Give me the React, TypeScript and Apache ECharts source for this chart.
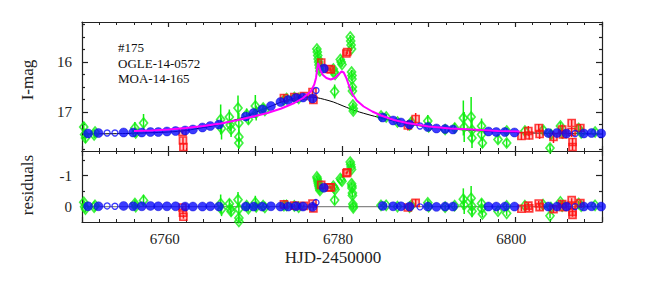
import React, { useEffect, useRef } from "react";
import * as echarts from "echarts";

// ---- single-lens model (black) ----
const modelDays = [6750, 6755, 6760, 6762, 6764, 6765, 6766, 6767, 6768, 6769, 6770, 6771, 6772, 6773, 6774, 6775, 6776, 6777, 6778, 6779, 6780, 6781, 6782, 6783, 6784.5, 6786, 6788, 6790, 6792, 6795, 6800, 6805, 6810];
const modelMag = [17.44, 17.43, 17.40, 17.37, 17.31, 17.28, 17.24, 17.19, 17.14, 17.08, 17.01, 16.94, 16.87, 16.80, 16.75, 16.71, 16.70, 16.71, 16.75, 16.80, 16.87, 16.94, 17.00, 17.05, 17.12, 17.18, 17.25, 17.30, 17.33, 17.37, 17.41, 17.43, 17.44];

// ---- binary-lens model (magenta) ----
const binaryDays = [6756, 6758, 6760, 6762, 6764, 6766, 6768, 6770, 6771.4, 6773, 6774.5, 6775.5, 6776.4, 6776.8, 6777.0, 6777.15, 6777.25, 6777.35, 6777.5, 6777.8, 6778.2, 6778.7, 6779.2, 6779.6, 6779.95, 6780.2, 6780.5, 6780.8, 6781.2, 6781.7, 6782.5, 6783.5, 6784.5, 6786, 6787.5, 6790, 6792.5, 6795, 6798, 6800.5];
const binaryMag = [17.38, 17.37, 17.35, 17.32, 17.28, 17.23, 17.16, 17.08, 17.02, 16.93, 16.82, 16.72, 16.59, 16.45, 16.32, 16.12, 16.02, 16.08, 16.17, 16.26, 16.32, 16.35, 16.32, 16.25, 16.19, 16.21, 16.32, 16.47, 16.64, 16.77, 16.89, 16.99, 17.07, 17.16, 17.22, 17.29, 17.33, 17.35, 17.38, 17.39];

// ---- green diamonds ----
const greenDays = [6750.2, 6750.3, 6750.4, 6751.4, 6751.5, 6756.1, 6756.2, 6757.1, 6766.0, 6766.1, 6767.0, 6767.1, 6767.2, 6768.0, 6768.1, 6768.1, 6768.1, 6769.0, 6769.2, 6770.0, 6770.1, 6770.9, 6771.1, 6773.3, 6773.6, 6774.5, 6775.0, 6777.1, 6777.15, 6777.2, 6777.25, 6777.3, 6777.35, 6777.4, 6777.45, 6779.0, 6779.1, 6779.2, 6779.15, 6779.8, 6779.9, 6780.0, 6780.95, 6781.0, 6781.05, 6781.1, 6781.1, 6781.15, 6781.15, 6781.2, 6781.2, 6781.25, 6781.3, 6781.3, 6784.5, 6785.1, 6786.4, 6787.8, 6788.0, 6789.9, 6790.0, 6791.9, 6793.0, 6794.0, 6794.1, 6794.9, 6795.0, 6795.0, 6796.1, 6796.1, 6796.2, 6798.0, 6799.0, 6799.0, 6801.1, 6803.2, 6804.0, 6804.1, 6805.2, 6805.4, 6807.3, 6807.6, 6809.2];
const greenMag = [17.30, 17.45, 17.52, 17.46, 17.40, 17.32, 17.42, 17.22, 17.15, 17.33, 17.10, 17.26, 17.35, 16.92, 17.22, 17.50, 17.62, 17.05, 17.15, 16.88, 17.02, 16.92, 16.97, 16.76, 16.73, 16.71, 16.73, 15.74, 15.80, 15.87, 15.94, 16.00, 16.06, 16.12, 16.18, 16.14, 16.20, 16.25, 16.59, 15.95, 16.00, 16.05, 15.50, 15.58, 15.66, 15.74, 16.20, 16.27, 16.34, 16.50, 16.58, 16.86, 16.93, 16.98, 17.08, 17.10, 17.20, 17.26, 17.20, 17.18, 17.30, 17.35, 17.32, 17.12, 17.30, 17.10, 17.36, 17.52, 17.28, 17.45, 17.62, 17.55, 17.38, 17.62, 17.38, 17.36, 17.72, 17.45, 17.28, 17.42, 17.33, 17.42, 17.40];
const greenErr = [0.10, 0.08, 0.10, 0.06, 0.05, 0.12, 0.08, 0.18, 0.30, 0.22, 0.15, 0.12, 0.15, 0.25, 0.20, 0.15, 0.12, 0.12, 0.10, 0.22, 0.15, 0.08, 0.06, 0.05, 0.05, 0.05, 0.04, 0.04, 0.04, 0.04, 0.04, 0.04, 0.04, 0.05, 0.05, 0.04, 0.04, 0.04, 0.14, 0.04, 0.04, 0.04, 0.04, 0.04, 0.04, 0.04, 0.04, 0.04, 0.04, 0.05, 0.05, 0.05, 0.05, 0.05, 0.05, 0.06, 0.06, 0.08, 0.10, 0.12, 0.08, 0.08, 0.10, 0.35, 0.30, 0.40, 0.25, 0.20, 0.15, 0.12, 0.10, 0.08, 0.06, 0.08, 0.08, 0.08, 0.08, 0.10, 0.08, 0.06, 0.08, 0.06, 0.06];
const greenRes = [-0.14, 0.01, 0.08, 0.02, -0.04, -0.10, 0.00, -0.20, -0.09, 0.09, -0.09, 0.07, 0.16, -0.22, 0.08, 0.37, 0.48, -0.03, 0.07, -0.13, 0.01, -0.03, 0.03, -0.03, -0.04, -0.02, 0.02, -0.96, -0.90, -0.83, -0.76, -0.70, -0.64, -0.58, -0.52, -0.66, -0.60, -0.55, -0.21, -0.91, -0.86, -0.82, -1.44, -1.36, -1.28, -1.20, -0.74, -0.67, -0.60, -0.44, -0.36, -0.08, -0.01, 0.04, -0.04, -0.04, 0.00, 0.02, -0.04, -0.12, 0.00, 0.02, -0.03, -0.24, -0.06, -0.27, -0.01, 0.15, -0.10, 0.07, 0.24, 0.15, -0.02, 0.22, -0.03, -0.06, 0.30, 0.03, -0.15, -0.01, -0.10, -0.01, -0.04];

// ---- red squares ----
const redDays = [6761.6, 6761.65, 6761.7, 6773.3, 6774.5, 6775.6, 6776.6, 6776.7, 6777.6, 6778.5, 6778.7, 6780.5, 6780.6, 6787.6, 6788.5, 6800.7, 6801.5, 6801.6, 6802.7, 6802.8, 6804.4, 6805.4, 6805.5, 6806.5, 6806.5, 6806.6, 6806.6, 6807.5];
const redMag = [17.40, 17.57, 17.70, 16.72, 16.70, 16.68, 16.60, 16.76, 16.01, 16.14, 16.15, 15.83, 15.80, 17.27, 17.14, 17.48, 17.38, 17.47, 17.32, 17.44, 17.50, 17.35, 17.45, 17.22, 17.40, 17.60, 17.70, 17.32];
const redErr = [0.05, 0.06, 0.06, 0.07, 0.06, 0.05, 0.06, 0.05, 0.04, 0.04, 0.04, 0.04, 0.04, 0.10, 0.12, 0.08, 0.10, 0.08, 0.08, 0.10, 0.12, 0.10, 0.08, 0.06, 0.10, 0.08, 0.06, 0.08];
const redRes = [0.03, 0.20, 0.33, -0.07, -0.03, -0.02, -0.10, 0.06, -0.70, -0.62, -0.62, -1.08, -1.11, 0.03, -0.12, 0.07, -0.03, 0.06, -0.10, 0.02, 0.08, -0.08, 0.02, -0.21, -0.03, 0.17, 0.27, -0.11];

// ---- blue filled circles ----
const blueDays = [6750.7, 6751.9, 6754.8, 6755.9, 6756.9, 6757.9, 6758.8, 6759.8, 6760.8, 6761.9, 6762.8, 6763.9, 6764.8, 6765.8, 6768.9, 6769.8, 6770.8, 6771.8, 6772.9, 6773.8, 6774.7, 6775.5, 6776.6, 6777.9, 6784.7, 6785.9, 6786.8, 6787.8, 6789.9, 6790.9, 6791.9, 6792.8, 6796.9, 6797.8, 6798.8, 6799.9, 6803.8, 6804.8, 6805.9, 6807.9, 6808.8, 6809.9];
const blueMag = [17.43, 17.42, 17.41, 17.41, 17.41, 17.40, 17.40, 17.39, 17.38, 17.37, 17.35, 17.31, 17.28, 17.25, 17.09, 17.02, 16.95, 16.88, 16.80, 16.76, 16.72, 16.71, 16.73, 16.13, 17.11, 17.17, 17.21, 17.25, 17.30, 17.33, 17.34, 17.35, 17.39, 17.40, 17.40, 17.41, 17.42, 17.42, 17.43, 17.43, 17.42, 17.43];
const blueRes = [-0.01, -0.01, -0.02, -0.01, -0.01, -0.02, -0.01, -0.01, -0.01, 0.00, 0.00, 0.00, -0.01, 0.00, 0.00, 0.00, 0.00, -0.01, 0.00, 0.00, -0.01, 0.00, 0.01, -0.61, -0.02, -0.01, -0.01, 0.00, 0.00, 0.01, 0.00, 0.00, 0.00, 0.00, 0.00, 0.00, 0.00, 0.00, 0.00, 0.00, -0.01, 0.00];

// ---- blue open circles ----
const blueOpenDays = [6752.9, 6753.8, 6777.0, 6789.0, 6806.9];
const blueOpenMag = [17.42, 17.42, 16.57, 17.28, 17.43];
const blueOpenRes = [-0.02, -0.01, -0.13, 0.01, 0.0];

// ---- residual zero line ----
const zeroLineDays = [6750, 6810];
const zeroLineRes = [0, 0];

// ---- ticks / labels ----
const xTickLabels = [6760, 6780, 6800];
const magMajorTicks = [16, 17];
const magMinorTicks = [15.25, 15.5, 15.75, 16.25, 16.5, 16.75, 17.25, 17.5, 17.75];
const resMajorTicks = [-1, 0];
const resMinorTicks = [-1.5, -0.5];
const eventLines = ["#175", "OGLE-14-0572", "MOA-14-165"];

const FONT = "Liberation Serif";
const AXIS_COLOR = "#222";
const GREEN = "#11ee11";
const RED = "#ff1010";
const BLUE = "#0a0aff";

const zip2 = (a: number[], b: number[]) => a.map((d, i) => [d, b[i]]);
const zip3 = (a: number[], b: number[], c: number[]) => a.map((d, i) => [d, b[i], c[i]]);

function errorBars(xi: number, yi: number, data: number[][], color: string, z: number) {
  return {
    type: "custom",
    xAxisIndex: xi,
    yAxisIndex: yi,
    clip: true,
    z,
    silent: true,
    data,
    encode: { x: 0, y: 1 },
    renderItem: (_p: any, api: any) => {
      const x = api.value(0);
      const y = api.value(1);
      const e = api.value(2);
      const a = api.coord([x, y - e]);
      const b = api.coord([x, y + e]);
      return {
        type: "line",
        shape: { x1: a[0], y1: a[1], x2: b[0], y2: b[1] },
        style: { stroke: color, lineWidth: 1.5 },
      };
    },
  };
}

function pointSeries(xi: number, yi: number, kind: string, data: number[][], z: number) {
  const base: any = { type: "scatter", xAxisIndex: xi, yAxisIndex: yi, data, z, clip: true, silent: true };
  if (kind === "green") {
    base.symbol = "diamond";
    base.symbolSize = [8, 10];
    base.itemStyle = { color: "rgba(0,0,0,0)", borderColor: GREEN, borderWidth: 1.7 };
  } else if (kind === "red") {
    base.symbol = "rect";
    base.symbolSize = 7;
    base.itemStyle = { color: "rgba(255,40,40,0.35)", borderColor: RED, borderWidth: 1.7 };
  } else if (kind === "blue") {
    base.symbol = "circle";
    base.symbolSize = 9;
    base.itemStyle = { color: BLUE, borderColor: "#0000cc", borderWidth: 0.5 };
  } else {
    base.symbol = "circle";
    base.symbolSize = 6;
    base.itemStyle = { color: "rgba(0,0,0,0)", borderColor: BLUE, borderWidth: 1.3 };
  }
  return base;
}

const xCommon = (gridIndex: number, position: string, labels: boolean) => ({
  type: "value",
  gridIndex,
  position,
  min: 6750,
  max: 6810,
  interval: 10,
  splitLine: { show: false },
  axisLine: { show: true, onZero: false, lineStyle: { color: AXIS_COLOR, width: 1.2 } },
  axisTick: { show: true, inside: true, length: 5, lineStyle: { color: AXIS_COLOR, width: 1.2 } },
  minorTick: { show: true, splitNumber: 5, length: 3, lineStyle: { color: AXIS_COLOR, width: 1 } },
  axisLabel: labels
    ? {
        show: true,
        margin: 9,
        fontFamily: FONT,
        fontSize: 15,
        color: AXIS_COLOR,
        padding: [0, 8, 0, 0],
        formatter: (v: number) => (xTickLabels.indexOf(v) >= 0 ? String(v) : ""),
      }
    : { show: false },
});

const yCommon = (gridIndex: number, position: string, min: number, max: number, ticks: number[], len: number, line: boolean, labels: boolean) => ({
  type: "value",
  gridIndex,
  position,
  inverse: true,
  min,
  max,
  splitLine: { show: false },
  axisLine: { show: line, onZero: false, lineStyle: { color: AXIS_COLOR, width: 1.2 } },
  axisTick: { show: true, inside: true, length: len, customValues: ticks, lineStyle: { color: AXIS_COLOR, width: 1.2 } },
  axisLabel: labels
    ? { show: true, margin: 10, fontFamily: FONT, fontSize: 15, color: AXIS_COLOR, customValues: ticks }
    : { show: false },
});

export default function App() {
  const ref = useRef<HTMLDivElement>(null);

  useEffect(() => {
    if (!ref.current) return;
    const chart = echarts.init(ref.current, null, { renderer: "svg" });
    const upper = { left: 82, top: 22, width: 520, height: 129 };
    const lower = { left: 82, top: 151, width: 520, height: 71 };

    const option: any = {
      animation: false,
      backgroundColor: "#fff",
      textStyle: { fontFamily: FONT },
      grid: [
        { ...upper, containLabel: false },
        { ...lower, containLabel: false },
        { ...upper, containLabel: false },
        { ...lower, containLabel: false },
      ],
      xAxis: [
        xCommon(0, "bottom", false),
        xCommon(0, "top", false),
        xCommon(1, "bottom", true),
        xCommon(1, "top", false),
        { type: "value", gridIndex: 2, min: 6750, max: 6810, show: false },
        { type: "value", gridIndex: 3, min: 6750, max: 6810, show: false },
      ],
      yAxis: [
        yCommon(0, "left", 15.2, 17.78, magMajorTicks, 6, true, true),
        yCommon(0, "right", 15.2, 17.78, magMajorTicks, 6, true, false),
        yCommon(1, "left", -1.8, 0.5, resMajorTicks, 6, true, true),
        yCommon(1, "right", -1.8, 0.5, resMajorTicks, 6, true, false),
        yCommon(2, "left", 15.2, 17.78, magMinorTicks, 3, false, false),
        yCommon(2, "right", 15.2, 17.78, magMinorTicks, 3, false, false),
        yCommon(3, "left", -1.8, 0.5, resMinorTicks, 3, false, false),
        yCommon(3, "right", -1.8, 0.5, resMinorTicks, 3, false, false),
      ],
      series: [
        // upper panel
        {
          type: "line", xAxisIndex: 0, yAxisIndex: 0, data: zip2(modelDays, modelMag),
          showSymbol: false, smooth: 0.3, clip: true, z: 1, silent: true,
          lineStyle: { color: "#000", width: 1 },
        },
        errorBars(0, 0, zip3(greenDays, greenMag, greenErr), GREEN, 2),
        pointSeries(0, 0, "green", zip2(greenDays, greenMag), 3),
        errorBars(0, 0, zip3(redDays, redMag, redErr), RED, 4),
        pointSeries(0, 0, "red", zip2(redDays, redMag), 5),
        pointSeries(0, 0, "blue", zip2(blueDays, blueMag), 6),
        pointSeries(0, 0, "blueOpen", zip2(blueOpenDays, blueOpenMag), 6),
        {
          type: "line", xAxisIndex: 0, yAxisIndex: 0, data: zip2(binaryDays, binaryMag),
          showSymbol: false, smooth: false, clip: true, z: 8, silent: true,
          lineStyle: { color: "#ff00ff", width: 2 },
        },
        // residual panel
        {
          type: "line", xAxisIndex: 2, yAxisIndex: 2, data: zip2(zeroLineDays, zeroLineRes),
          showSymbol: false, clip: true, z: 1, silent: true,
          lineStyle: { color: "#888", width: 1.2 },
        },
        errorBars(2, 2, zip3(greenDays, greenRes, greenErr), GREEN, 2),
        pointSeries(2, 2, "green", zip2(greenDays, greenRes), 3),
        errorBars(2, 2, zip3(redDays, redRes, redErr), RED, 4),
        pointSeries(2, 2, "red", zip2(redDays, redRes), 5),
        pointSeries(2, 2, "blue", zip2(blueDays, blueRes), 6),
        pointSeries(2, 2, "blueOpen", zip2(blueOpenDays, blueOpenRes), 6),
      ],
      graphic: [
        {
          type: "text", x: 27, y: 80, rotation: Math.PI / 2,
          style: { text: "I-mag", fontFamily: FONT, fontSize: 17, fill: AXIS_COLOR, align: "center", verticalAlign: "middle" },
        },
        {
          type: "text", x: 27, y: 185, rotation: Math.PI / 2,
          style: { text: "residuals", fontFamily: FONT, fontSize: 17, fill: AXIS_COLOR, align: "center", verticalAlign: "middle" },
        },
        {
          type: "text", x: 333, y: 257,
          style: { text: "HJD-2450000", fontFamily: FONT, fontSize: 17, fill: AXIS_COLOR, align: "center", verticalAlign: "middle" },
        },
        ...eventLines.map((t, i) => ({
          type: "text", x: 118, y: 47.5 + i * 15.5,
          style: { text: t, fontFamily: FONT, fontSize: 13, fill: "#111", align: "left", verticalAlign: "middle" },
        })),
      ],
    };
    chart.setOption(option);
    return () => chart.dispose();
  }, []);

  return <div ref={ref} style={{ position: "fixed", left: 0, top: 0, width: 664, height: 285 }} />;
}
